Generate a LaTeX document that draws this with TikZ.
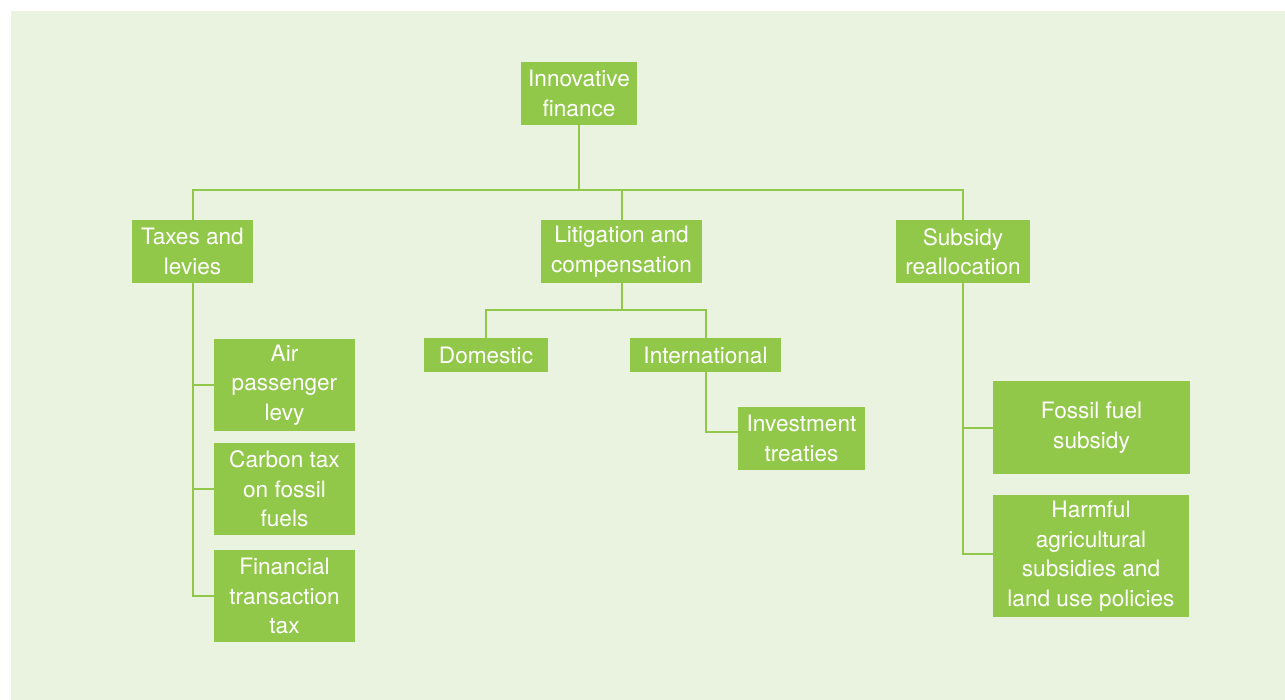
\documentclass[tikz,border=0pt]{standalone}
\usepackage{fontspec}
\setmainfont{TeX Gyre Heros}
\definecolor{bg}{HTML}{EAF3DF}
\definecolor{gr}{HTML}{92C84A}
\begin{document}
\begin{tikzpicture}[x=1pt,y=-1pt,
  box/.style={fill=gr, text=white, inner sep=0pt, align=center, font=\fontsize{22.6}{29.5}\selectfont},
  conn/.style={draw=gr, line width=2pt}]
\useasboundingbox (0,0) rectangle (1285,700);
\fill[bg] (11,11) rectangle (1285,700);
\coordinate (bar) at (0,190);
\coordinate (lb) at (0,310.5);
% nodes
\node[box, minimum width=116pt, minimum height=63pt] (fin) at (579,93.5) {Innovative\\finance};
\node[box, minimum width=121pt, minimum height=63pt] (tax) at (192.5,251.5) {Taxes and\\levies};
\node[box, minimum width=161pt, minimum height=63pt] (lit) at (621.5,251.5) {Litigation and\\compensation};
\node[box, minimum width=134pt, minimum height=63pt] (sub) at (963,251.5) {Subsidy\\reallocation};
\node[box, minimum width=141pt, minimum height=92pt] (air) at (284.5,385) {Air\\passenger\\levy};
\node[box, minimum width=141pt, minimum height=92pt] (carb) at (284.5,489) {Carbon tax\\on fossil\\fuels};
\node[box, minimum width=141pt, minimum height=92pt] (fint) at (284.5,596) {Financial\\transaction\\tax};
\node[box, minimum width=124pt, minimum height=33.5pt] (dom) at (486,355) {Domestic};
\node[box, minimum width=151pt, minimum height=33.5pt] (intl) at (705.5,355) {International};
\node[box, minimum width=127pt, minimum height=62pt] (inv) at (801.5,438.5) {Investment\\treaties};
\node[box, minimum width=197pt, minimum height=93pt] (ffs) at (1091.5,427.5) {Fossil fuel\\subsidy};
\node[box, minimum width=196pt, minimum height=122pt] (harm) at (1091,556) {Harmful\\agricultural\\subsidies and\\land use policies};
% connectors
\draw[conn] (fin.south) -- (fin.south |- bar);
\draw[conn] (tax.north) |- (sub.north |- bar) -- (sub.north);
\draw[conn] (lit.north) -- (lit.north |- bar);
\draw[conn] (tax.south) |- (fint.west);
\draw[conn] (tax.south |- air.west) -- (air.west);
\draw[conn] (tax.south |- carb.west) -- (carb.west);
\draw[conn] (lit.south) -- (lit.south |- lb);
\draw[conn] (dom.north) |- (intl.north |- lb) -- (intl.north);
\draw[conn] (intl.south) |- ([yshift=7pt]inv.west);
\draw[conn] (sub.south) |- ([yshift=2pt]harm.west);
\draw[conn] (sub.south |- ffs.west) -- (ffs.west);
\end{tikzpicture}
\end{document}
